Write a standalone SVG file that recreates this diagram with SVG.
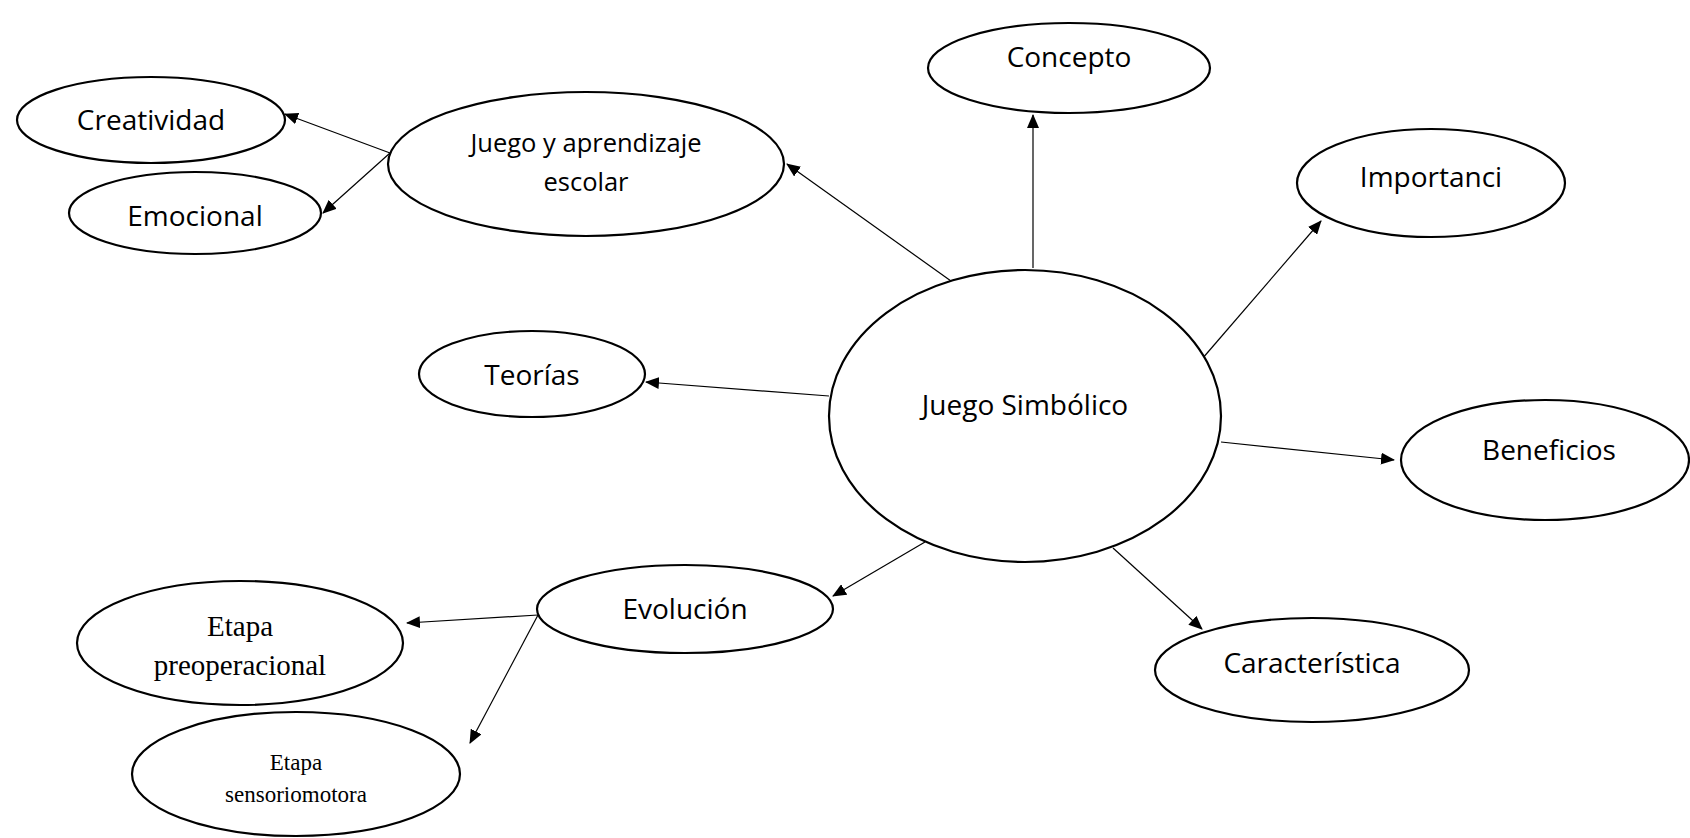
<svg xmlns="http://www.w3.org/2000/svg" width="1690" height="838" viewBox="0 0 1690 838">
<defs>
<marker id="ah" markerWidth="14" markerHeight="12" refX="13" refY="6" orient="auto" markerUnits="userSpaceOnUse">
<path d="M0,0 L14,6 L0,12 Z" fill="#000"/>
</marker>
<style>
.n{fill:#fff;stroke:#000;stroke-width:2.2}
.t{font-family:"Open Sans","Noto Sans",sans-serif;font-size:28px;fill:#000;text-anchor:middle}
.s{font-family:"Liberation Serif",serif;font-size:29px;fill:#000;text-anchor:middle}
.c line{stroke:#000;stroke-width:1.2;marker-end:url(#ah)}
</style>
</defs>
<rect width="1690" height="838" fill="#fff"/>
<g class="c" id="connectors">
<line x1="1033" y1="268" x2="1033" y2="115"/>
<line x1="1202" y1="359" x2="1321" y2="221"/>
<line x1="1221" y1="442" x2="1394" y2="460"/>
<line x1="1113" y1="548" x2="1202" y2="629"/>
<line x1="925" y1="542" x2="833" y2="596"/>
<line x1="829" y1="396" x2="646" y2="382"/>
<line x1="951" y1="281" x2="787" y2="164"/>
<line x1="390" y1="153" x2="285" y2="114"/>
<line x1="390" y1="153" x2="323" y2="213"/>
<line x1="538" y1="615" x2="407" y2="623"/>
<line x1="538" y1="615" x2="470" y2="743"/>
</g>
<g id="concepto"><ellipse class="n" cx="1069" cy="68" rx="141" ry="45"/><text class="t" x="1069" y="67">Concepto</text></g>
<g id="importanci"><ellipse class="n" cx="1431" cy="183" rx="134" ry="54"/><text class="t" x="1431" y="187">Importanci</text></g>
<g id="beneficios"><ellipse class="n" cx="1545" cy="460" rx="144" ry="60"/><text class="t" x="1549" y="460">Beneficios</text></g>
<g id="caracteristica"><ellipse class="n" cx="1312" cy="670" rx="157" ry="52"/><text class="t" x="1312" y="673">Característica</text></g>
<g id="juego-simbolico"><ellipse class="n" cx="1025" cy="416" rx="196" ry="146"/><text class="t" x="1025" y="415">Juego Simbólico</text></g>
<g id="juego-aprendizaje"><ellipse class="n" cx="586" cy="164" rx="198" ry="72"/><text class="t" style="font-size:25.5px" x="586" y="152">Juego y aprendizaje</text><text class="t" style="font-size:25.5px" x="586" y="191">escolar</text></g>
<g id="creatividad"><ellipse class="n" cx="151" cy="120" rx="134" ry="43"/><text class="t" x="151" y="130">Creatividad</text></g>
<g id="emocional"><ellipse class="n" cx="195" cy="213" rx="126" ry="41"/><text class="t" x="195" y="226">Emocional</text></g>
<g id="teorias"><ellipse class="n" cx="532" cy="374" rx="113" ry="43"/><text class="t" x="532" y="385">Teorías</text></g>
<g id="evolucion"><ellipse class="n" cx="685" cy="609" rx="148" ry="44"/><text class="t" x="685" y="619">Evolución</text></g>
<g id="preoperacional"><ellipse class="n" cx="240" cy="643" rx="163" ry="62"/><text class="s" x="240" y="636">Etapa</text><text class="s" x="240" y="675">preoperacional</text></g>
<g id="sensoriomotora"><ellipse class="n" cx="296" cy="774" rx="164" ry="62"/><text class="s" style="font-size:23px" x="296" y="770">Etapa</text><text class="s" style="font-size:23px" x="296" y="802">sensoriomotora</text></g>
</svg>
